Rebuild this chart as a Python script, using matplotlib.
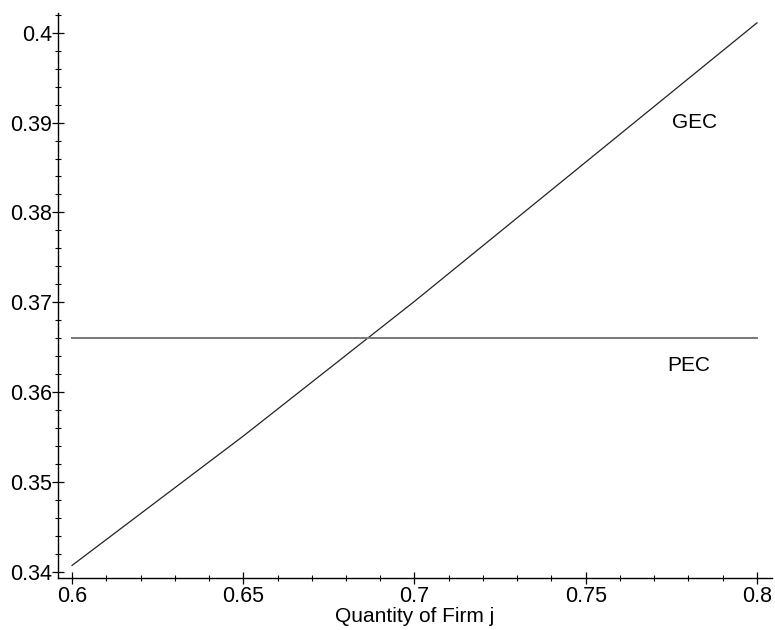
import numpy as np
import matplotlib
matplotlib.use('Agg')
import matplotlib.pyplot as plt

# quantity of firm j
q_values = [0.6, 0.65, 0.7, 0.75, 0.8]
gec_values = [0.3407, 0.3551, 0.3701, 0.3856, 0.4011]
pec_value = 0.36606

x_ticks = [0.6, 0.65, 0.7, 0.75, 0.8]
x_labels = ['0.6', '0.65', '0.7', '0.75', '0.8']
y_ticks = [0.34, 0.35, 0.36, 0.37, 0.38, 0.39, 0.4]
y_labels = ['0.34', '0.35', '0.36', '0.37', '0.38', '0.39', '0.4']

plt.rcParams['font.family'] = ['Liberation Sans', 'DejaVu Sans']

fig = plt.figure(figsize=(7.75, 6.3), dpi=100)
ax = fig.add_axes([58 / 775, 52 / 630, 714 / 775, 565 / 630])

ax.plot(q_values, gec_values, color='#222222', lw=0.9)
ax.plot([q_values[0], q_values[-1]], [pec_value, pec_value], color='#777777', lw=1.4)

ax.text(0.7819, 0.3900, 'GEC', fontsize=15, ha='center', va='center')
ax.text(0.7801, 0.3630, 'PEC', fontsize=15, ha='center', va='center')

ax.set_xlim(0.5959, 0.8044)
ax.set_ylim(0.3393, 0.4022)

for s in ('top', 'right'):
    ax.spines[s].set_visible(False)
for s in ('left', 'bottom'):
    ax.spines[s].set_linewidth(1.0)

ax.set_xticks(x_ticks)
ax.set_xticklabels(x_labels)
ax.set_yticks(y_ticks)
ax.set_yticklabels(y_labels)
ax.set_xticks(np.arange(0.6, 0.8001, 0.01), minor=True)
ax.set_yticks(np.arange(0.34, 0.4021, 0.002), minor=True)

ax.tick_params(which='major', direction='inout', length=8, width=0.9, labelsize=15.5)
ax.tick_params(axis='y', which='major', pad=0.5)
ax.tick_params(axis='x', which='major', pad=2)
ax.tick_params(which='minor', direction='inout', length=4.3, width=0.8)

ax.set_xlabel('Quantity of Firm j', fontsize=15, labelpad=0)

fig.savefig('out.png', dpi=100)
